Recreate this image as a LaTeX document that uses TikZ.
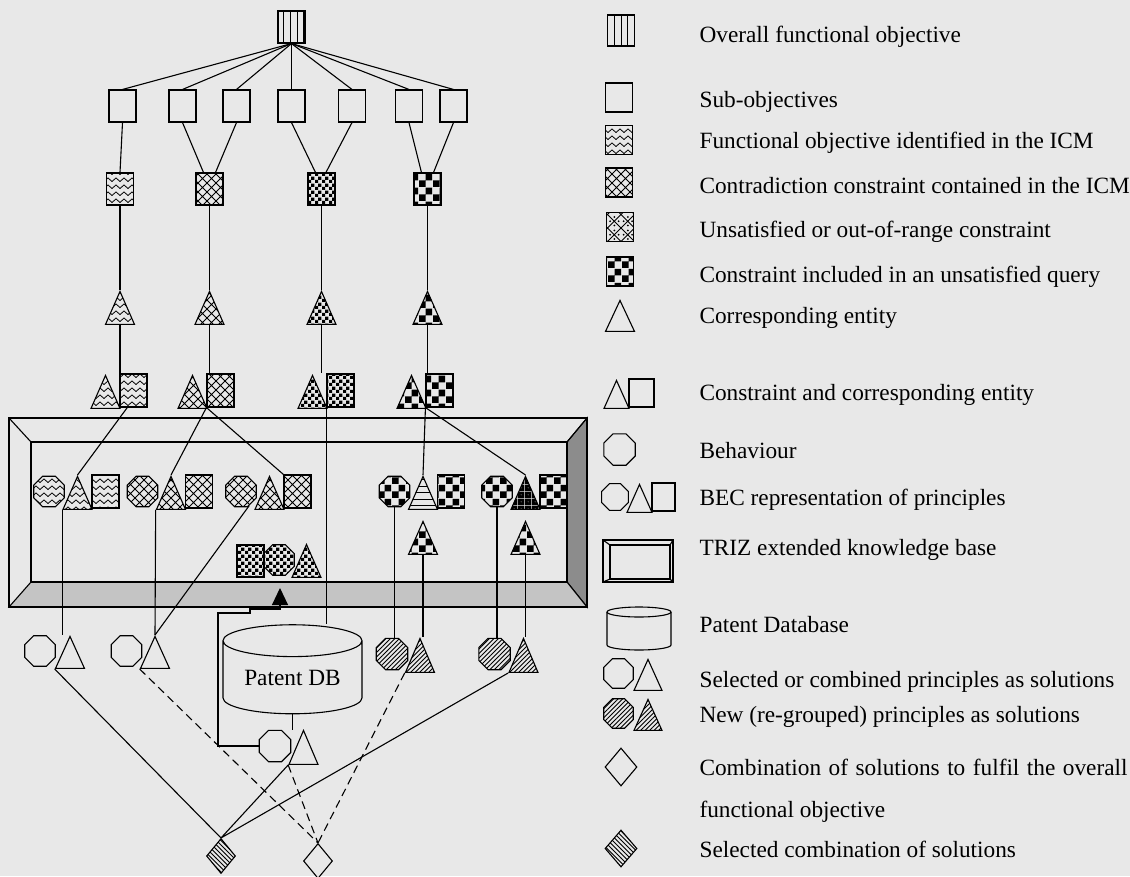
\documentclass[tikz,border=0pt]{standalone}
\usepackage{fontspec}
\setmainfont{Liberation Serif}
\usetikzlibrary{shapes.geometric,patterns,arrows.meta}

\definecolor{paper}{RGB}{232,232,232}
\definecolor{bevel}{RGB}{140,140,140}
\definecolor{bevellight}{RGB}{196,196,196}

% fill patterns of the picture
\pgfdeclarepatternformonly{zigzag}{\pgfpoint{-1pt}{-1pt}}{\pgfpoint{9pt}{8pt}}{\pgfpoint{8pt}{7pt}}{%
  \pgfsetlinewidth{0.8pt}
  \pgfpathmoveto{\pgfpoint{0pt}{1.5pt}}
  \pgfpathlineto{\pgfpoint{4pt}{5pt}}
  \pgfpathlineto{\pgfpoint{8pt}{1.5pt}}
  \pgfusepath{stroke}}
\pgfdeclarepatternformonly{diagcross}{\pgfpoint{-1pt}{-1pt}}{\pgfpoint{10pt}{10pt}}{\pgfpoint{9pt}{9pt}}{%
  \pgfsetlinewidth{0.8pt}
  \pgfpathmoveto{\pgfpointorigin}\pgfpathlineto{\pgfpoint{9pt}{9pt}}
  \pgfpathmoveto{\pgfpoint{0pt}{9pt}}\pgfpathlineto{\pgfpoint{9pt}{0pt}}
  \pgfusepath{stroke}}
\pgfdeclarepatternformonly{dotcross}{\pgfpoint{-1pt}{-1pt}}{\pgfpoint{14.5pt}{14.5pt}}{\pgfpoint{13.5pt}{13.5pt}}{%
  \pgfsetlinewidth{0.8pt}
  \pgfpathmoveto{\pgfpointorigin}\pgfpathlineto{\pgfpoint{13.5pt}{13.5pt}}
  \pgfpathmoveto{\pgfpoint{0pt}{13.5pt}}\pgfpathlineto{\pgfpoint{13.5pt}{0pt}}
  \pgfusepath{stroke}
  \pgfpathcircle{\pgfpoint{6.75pt}{2.5pt}}{1pt}
  \pgfpathcircle{\pgfpoint{6.75pt}{11pt}}{1pt}
  \pgfpathcircle{\pgfpoint{2.5pt}{6.75pt}}{1pt}
  \pgfpathcircle{\pgfpoint{11pt}{6.75pt}}{1pt}
  \pgfusepath{fill}}
\pgfdeclarepatternformonly{finechecker}{\pgfpointorigin}{\pgfpoint{7pt}{7pt}}{\pgfpoint{7pt}{7pt}}{%
  \pgfpathrectangle{\pgfpointorigin}{\pgfpoint{3.5pt}{3.5pt}}
  \pgfpathrectangle{\pgfpoint{3.5pt}{3.5pt}}{\pgfpoint{3.5pt}{3.5pt}}
  \pgfusepath{fill}}
\pgfdeclarepatternformonly{coarsechecker}{\pgfpointorigin}{\pgfpoint{13.5pt}{13.5pt}}{\pgfpoint{13.5pt}{13.5pt}}{%
  \pgfpathrectangle{\pgfpointorigin}{\pgfpoint{6.75pt}{6.75pt}}
  \pgfpathrectangle{\pgfpoint{6.75pt}{6.75pt}}{\pgfpoint{6.75pt}{6.75pt}}
  \pgfusepath{fill}}
\pgfdeclarepatternformonly{vstripes}{\pgfpoint{-1pt}{-1pt}}{\pgfpoint{1pt}{8pt}}{\pgfpoint{6.75pt}{7pt}}{%
  \pgfsetlinewidth{0.9pt}
  \pgfpathmoveto{\pgfpoint{0pt}{-0.5pt}}\pgfpathlineto{\pgfpoint{0pt}{7.5pt}}
  \pgfusepath{stroke}}
\pgfdeclarepatternformonly{hstripes}{\pgfpoint{-1pt}{-1pt}}{\pgfpoint{8pt}{1pt}}{\pgfpoint{7pt}{6.5pt}}{%
  \pgfsetlinewidth{0.9pt}
  \pgfpathmoveto{\pgfpoint{-0.5pt}{0pt}}\pgfpathlineto{\pgfpoint{7.5pt}{0pt}}
  \pgfusepath{stroke}}
\pgfdeclarepatternformonly{nelines}{\pgfpoint{-1pt}{-1pt}}{\pgfpoint{5.5pt}{5.5pt}}{\pgfpoint{4.5pt}{4.5pt}}{%
  \pgfsetlinewidth{0.9pt}
  \pgfpathmoveto{\pgfpointorigin}\pgfpathlineto{\pgfpoint{4.6pt}{4.6pt}}
  \pgfusepath{stroke}}
\pgfdeclarepatternformonly{nwlines}{\pgfpoint{-1pt}{-1pt}}{\pgfpoint{5.5pt}{5.5pt}}{\pgfpoint{4.5pt}{4.5pt}}{%
  \pgfsetlinewidth{0.9pt}
  \pgfpathmoveto{\pgfpoint{0pt}{4.6pt}}\pgfpathlineto{\pgfpoint{4.6pt}{0pt}}
  \pgfusepath{stroke}}
\pgfdeclarepatternformonly{darkdots}{\pgfpointorigin}{\pgfpoint{7pt}{7pt}}{\pgfpoint{7pt}{7pt}}{%
  \pgfseteorule
  \pgfpathrectangle{\pgfpointorigin}{\pgfpoint{7pt}{7pt}}
  \pgfpathcircle{\pgfpoint{3.5pt}{3.5pt}}{0.6pt}
  \pgfusepath{fill}}

\begin{document}
\begin{tikzpicture}[x=1pt,y=-1pt,line width=1.1pt,
    sq/.style={draw,rectangle,minimum width=27,minimum height=33,inner sep=0},
    tri/.style={draw,isosceles triangle,isosceles triangle stretches,
      shape border rotate=90,minimum width=29,minimum height=33,inner sep=0,
      anchor=apex},
    oct/.style={draw,regular polygon,regular polygon sides=8,
      minimum size=33,inner sep=0},
    dia/.style={draw,diamond,minimum width=29,minimum height=35,inner sep=0},
    dbs/.style={draw,cylinder,shape border rotate=90,aspect=0.33,
      minimum width=139,minimum height=89,inner sep=0},
    txt/.style={anchor=base west,inner sep=0,font=\fontsize{23.3}{28}\selectfont}]
  \path[use as bounding box,fill=paper] (0,0) rectangle (1130,876);

  % the knowledge base frame
  \draw[fill=bevel] (567,442) -- (587,418) -- (587,607) -- (567,582) -- cycle;
  \draw[fill=bevellight] (31,582) -- (567,582) -- (587,607) -- (9,607) -- cycle;
  \draw (9,418) rectangle (587,607);
  \draw (31,442) rectangle (567,582);
  \draw (9,418) -- (31,442) (587,418) -- (567,442);

  % objectives
  \node[sq,minimum height=32,pattern=vstripes] (obj) at (291.5,27) {};
  \foreach \i/\x in {1/122.5,2/182.5,3/236.5,4/291.5,5/352,6/409,7/453.5}
    \node[sq,minimum height=32] (s\i) at (\x,106) {};
  \foreach \i/\x/\p in {1/120/zigzag,2/209.5/diagcross,3/321.5/finechecker,4/427.5/coarsechecker}{
    \node[sq,minimum height=32,pattern=\p] (f\i) at (\x,189) {};
    \node[tri,pattern=\p] (e\i) at (\x,290) {};
  }
  % constraint and entity
  \foreach \i/\x/\p in {1/120/zigzag,2/207/diagcross,3/327/finechecker,4/426/coarsechecker}{
    \node[tri,pattern=\p] (pt\i) at (\x-14.5,374) {};
    \node[sq,pattern=\p] (ps\i) at (\x+13.5,390.5) {};
  }

  % principles in the knowledge base
  \foreach \i/\x/\pb/\pt/\pc in {1/49/zigzag/zigzag/zigzag,
      2/142.5/diagcross/diagcross/diagcross,3/241/diagcross/diagcross/diagcross,
      4/394.5/coarsechecker/hstripes/coarsechecker,
      5/497/coarsechecker/darkdots/coarsechecker}{
    \node[oct,pattern=\pb] (gb\i) at (\x,491.5) {};
    \node[tri,pattern=\pt] (gt\i) at (\x+28.5,475) {};
    \node[sq,pattern=\pc] (gc\i) at (\x+56.5,491.5) {};
  }
  \node[tri,pattern=coarsechecker] (u4) at (423,520) {};
  \node[tri,pattern=coarsechecker] (u5) at (525.5,520) {};
  \node[sq,minimum height=32,pattern=finechecker] (ksq) at (250.5,561) {};
  \node[oct,pattern=finechecker] (kob) at (279,560) {};
  \node[tri,pattern=finechecker] (ktr) at (306.5,543) {};
  \coordinate (kbin) at (280,588);

  % solutions
  \node[oct] (so1) at (40,651) {};
  \node[tri,minimum height=32] (st1) at (70,635) {};
  \node[oct] (so2) at (126.5,651) {};
  \node[tri,minimum height=32] (st2) at (155,635) {};
  \node[oct,minimum size=34,pattern=nelines] (no1) at (392,654) {};
  \node[tri,minimum height=34,pattern=nelines] (nt1) at (420,637) {};
  \node[oct,minimum size=34,pattern=nelines] (no2) at (494.5,654) {};
  \node[tri,minimum height=34,pattern=nelines] (nt2) at (523.5,637) {};
  \node[dbs,font=\fontsize{23.3}{28}\selectfont] (db) at (292.5,677.5) {Patent DB};
  \node[oct,minimum size=34] (dbo) at (275,746) {};
  \node[tri,minimum height=34] (dbt) at (303.5,729) {};
  \node[dia,pattern=nwlines] (dh) at (221,856) {};
  \node[dia] (dw) at (318,861) {};

  % connectors
  \foreach \i in {1,...,7}
    \draw (obj.south) -- (s\i.north);
  \draw (s1.south) -- (f1.north) (s2.south) -- (f2.110) (s3.south) -- (f2.70)
        (s4.south) -- (f3.110) (s5.south) -- (f3.75)
        (s6.south) -- (f4.110) (s7.south) -- (f4.70);
  \foreach \i in {1,...,4}
    \draw (f\i.south) -- (e\i.apex) (e\i.lower side) -- (e\i.lower side |- ps\i.north);
  \draw (ps1.250) -- (gt1.apex);
  \draw (ps2.south west) -- (gt2.apex) (ps2.south west) -- (gc3.north west);
  \draw (ps4.south west) -- (gt4.apex) (ps4.south west) -- (gt5.apex);
  \draw (ps3.south west) -- (ps3.south west |- db.top);
  \draw (gt1.left corner) -- (gt1.left corner |- st1.apex);
  \draw (gt2.left corner) -- (st2.apex);
  \draw (gb3.300) -- (st2.apex);
  \draw (gb4.south) -- (gb4.south |- no1.north);
  \draw (u4.lower side) -- (u4.lower side |- nt1.apex);
  \draw (gb5.south) -- (gb5.south |- no2.north);
  \draw (u5.lower side) -- (u5.lower side |- nt2.apex);
  \draw (db.bottom) -- (db.bottom |- dbo.north);
  \draw[-{Triangle[length=17pt,width=16pt]}] (dbo.west) -| (218,613) -- (250,613)
        -- (250,609) -- (280,609) -- (kbin);
  \draw (st1.left corner) -- (dh.north) (dbt.left corner) -- (dh.north)
        (nt2.left corner) -- (dh.north);
  \draw[dash pattern=on 8pt off 5pt] (st2.left corner) -- (dw.north)
        (dbt.left corner) -- (dw.north) (nt1.left corner) -- (dw.north);

  % the legend
  \node[sq,minimum height=31,pattern=vstripes] (l1) at (621,30.5) {};
  \node[sq,minimum height=29] (l2) at (619,97.5) {};
  \node[sq,minimum height=29,pattern=zigzag] (l3) at (619,140) {};
  \node[sq,minimum height=29,pattern=diagcross] (l4) at (619,182.5) {};
  \node[sq,minimum height=29,pattern=dotcross] (l5) at (620,227) {};
  \node[sq,minimum height=29,pattern=coarsechecker] (l6) at (620,271.5) {};
  \node[tri,minimum height=31] (l7) at (620,299) {};
  \node[tri,minimum width=25,minimum height=28] (l8t) at (616.5,379) {};
  \node[sq,minimum width=25,minimum height=28] (l8s) at (641.5,393) {};
  \node[oct,minimum size=34] (l9) at (619.5,449.5) {};
  \node[oct,minimum size=29] (l10b) at (615,497) {};
  \node[tri,minimum width=25,minimum height=28] (l10t) at (639.5,483) {};
  \node[sq,minimum width=23,minimum height=28] (l10c) at (663.5,497) {};
  \draw (603,540) rectangle (673,582) (610,545) rectangle (670,579);
  \draw (603,540) -- (610,545) (673,540) -- (670,545)
        (603,582) -- (610,579) (673,582) -- (670,579);
  \draw (607,612) -- (607,645) arc[start angle=180,end angle=360,x radius=32pt,y radius=5pt]
        -- (671,612);
  \draw (639,612) ellipse[x radius=32pt,y radius=5pt];
  \node[oct,minimum size=32] (l13b) at (618.5,673.5) {};
  \node[tri,minimum width=28,minimum height=31] (l13t) at (648,658) {};
  \node[oct,minimum size=32,pattern=nelines] (l14b) at (618.5,713.5) {};
  \node[tri,minimum width=28,minimum height=31,pattern=nelines] (l14t) at (648,698) {};
  \node[dia,minimum width=32,minimum height=38] (l15) at (621,767) {};
  \node[dia,minimum width=32,minimum height=37,pattern=nwlines] (l16) at (621,848.5) {};

  % the texts
  \foreach \y/\t [count=\i] in {42/Overall functional objective,107/Sub-objectives,
      148/Functional objective identified in the ICM,
      193/Contradiction constraint contained in the ICM,
      237/Unsatisfied or out-of-range constraint,
      282/Constraint included in an unsatisfied query,323/Corresponding entity,
      400/Constraint and corresponding entity,458/Behaviour,
      505/BEC representation of principles,555/TRIZ extended knowledge base,
      632/Patent Database,687/Selected or combined principles as solutions,
      722/New (re-grouped) principles as solutions,817/functional objective,
      857/Selected combination of solutions}
    \node[txt] (t\i) at (699,\y) {\t};
  \node[txt] (tcomb) at (699,775)
    {\makebox[428pt][s]{Combination of solutions to fulfil the overall}};
\end{tikzpicture}
\end{document}
